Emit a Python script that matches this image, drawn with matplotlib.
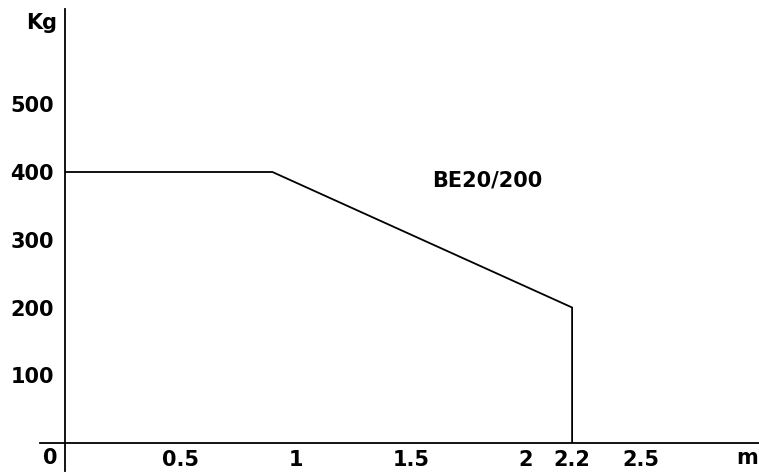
import matplotlib.pyplot as plt

# load curve: kg vs boom extension (m)
dist = [0, 0.9, 2.2, 2.2]
load = [400, 400, 200, 0]

x_ticks = [0.5, 1, 1.5, 2, 2.2, 2.5]
x_labels = ["0.5", "1", "1.5", "2", "2.2", "2.5"]
y_ticks = [100, 200, 300, 400, 500]
y_labels = ["100", "200", "300", "400", "500"]

plt.rcParams['font.family'] = ['DejaVu Sans']
fs = 15
fw = 'bold'

fig = plt.figure(figsize=(7.59, 4.72), dpi=100)
W, H = 759, 472
ax = fig.add_axes([65 / W, (H - 443) / H, (759 - 65) / W, (443 - 13) / H])
ax.set_xlim(0, (759 - 65) / 230.5)
ax.set_ylim(0, (443 - 13) / 0.6775)
for s in ax.spines.values():
    s.set_visible(False)

# axis lines, running a bit past the origin
ax.plot([-25 / 230.5, 3.02], [0, 0], color='black', lw=1.3, clip_on=False)
ax.plot([0, 0], [-28 / 0.6775, 640], color='black', lw=1.3, clip_on=False)

ax.plot(dist, load, color='black', lw=1.3)

ax.set_xticks(x_ticks, x_labels)
ax.set_yticks(y_ticks, y_labels)
ax.tick_params(axis='both', length=0, labelsize=fs)
ax.tick_params(axis='x', pad=5)
ax.tick_params(axis='y', pad=8)
for lb in ax.get_xticklabels() + ax.get_yticklabels():
    lb.set_fontweight(fw)

ax.text(-15 / 230.5, -15 / 0.6775, "0", ha='center', va='center',
        fontsize=fs, fontweight=fw, clip_on=False)
ax.text(682 / 230.5, -15 / 0.6775, "m", ha='center', va='center',
        fontsize=fs, fontweight=fw, clip_on=False)
ax.text(-8 / 230.5, 420 / 0.6775, "Kg", ha='right', va='center',
        fontsize=fs, fontweight=fw, clip_on=False)
ax.text(1.83, 388, "BE20/200", ha='center', va='center',
        fontsize=fs, fontweight=fw)

fig.savefig("out.png", dpi=100)
